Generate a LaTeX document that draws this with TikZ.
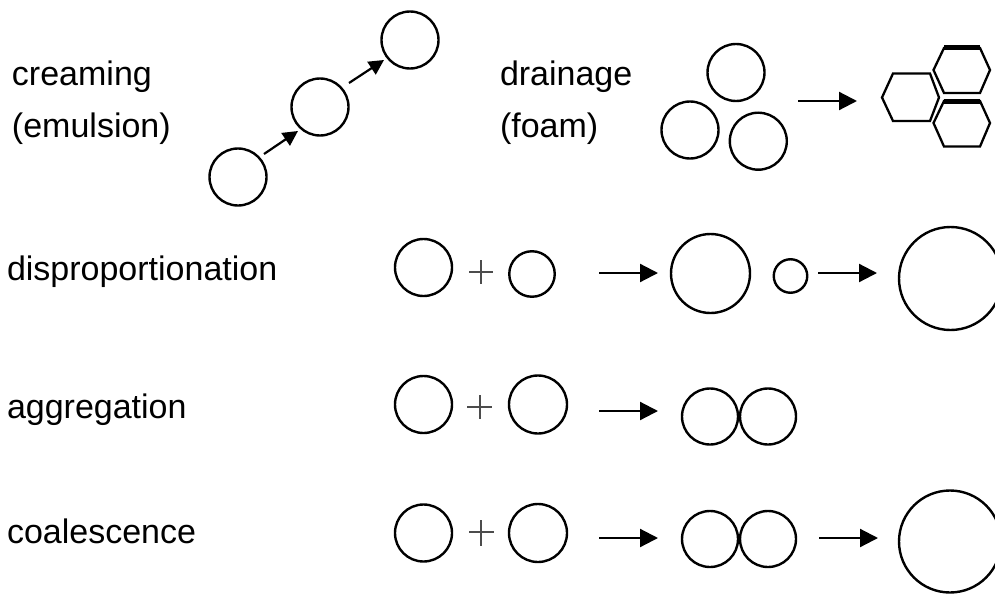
\documentclass[tikz,border=0pt]{standalone}
\usepackage{fontspec}
\setmainfont{Liberation Sans}
\usetikzlibrary{arrows.meta}
\tikzset{
  bubble/.style={circle, draw=black, line width=2.4pt, inner sep=0pt, outer sep=0pt},
  label/.style={anchor=base west, inner sep=0pt, outer sep=0pt, font=\fontsize{34}{40}\selectfont},
  arr/.style={line width=2.2pt, -{Triangle[length=18pt, width=18pt]}},
  smallarr/.style={line width=2.2pt, -{Triangle[length=15pt, width=15pt]}},
  plusbar/.style={draw=black!70, line width=1.4pt},
  hexline/.style={line width=2.3pt, line join=miter},
  thickedge/.style={line width=5pt},
}
\begin{document}
\begin{tikzpicture}[x=1pt, y=-1pt]
\useasboundingbox (0,0) rectangle (995,594);
\clip (0,0) rectangle (995,594);

% ---------- labels ----------
\node[label] (tCream) at (12,85) {creaming};
\node[label] (tEmul)  at (12,137) {(emulsion)};
\node[label] (tDrain) at (500,85) {drainage};
\node[label] (tFoam)  at (500,137) {(foam)};
\node[label] (tDisp)  at (7,280) {disproportionation};
\node[label] (tAggr)  at (7,418) {aggregation};
\node[label] (tCoal)  at (7,543) {coalescence};

% ---------- creaming: rising droplets ----------
\node[bubble, minimum size=57pt] (cr1) at (238,177) {};
\node[bubble, minimum size=57pt] (cr2) at (320,107) {};
\node[bubble, minimum size=57pt] (cr3) at (410,40) {};
\coordinate (crA1s) at (264,154); \coordinate (crA1e) at (298,131);
\coordinate (crA2s) at (349,83);  \coordinate (crA2e) at (384,60);
\draw[smallarr] (crA1s) -- (crA1e);
\draw[smallarr] (crA2s) -- (crA2e);

% ---------- drainage: bubbles to polyhedral foam ----------
\node[bubble, minimum size=57pt] (dr1) at (736,72.5) {};
\node[bubble, minimum size=57pt] (dr2) at (690,130) {};
\node[bubble, minimum size=57pt] (dr3) at (758.3,141.2) {};
\coordinate (drAs) at (798,101); \coordinate (drAe) at (857,101);
\draw[arr] (drAs) -- (drAe);

% foam cells
\draw[hexline] (882,97.5) -- (893,73.5) -- (930,73.5) -- (939,97.5) -- (930,121) -- (893,121) -- cycle;
\draw[hexline] (933.5,70) -- (944,48) -- (980,48) -- (990,70) -- (980,93) -- (944,93) -- cycle;
\draw[hexline] (933.5,123) -- (944,101) -- (980,101) -- (990,123) -- (980,146.5) -- (944,146.5) -- cycle;
\draw[thickedge] (944,48) -- (980,48);
\draw[thickedge] (944,101) -- (980,101);

% ---------- disproportionation ----------
\node[bubble, minimum size=57pt] (d1) at (423.5,267.5) {};
\draw[plusbar] (469,272) -- (493,272) (481,260) -- (481,284);
\node[bubble, minimum size=45.5pt] (d2) at (532,274) {};
\node[bubble, minimum size=79pt] (d3) at (710.5,273.5) {};
\node[bubble, minimum size=33.5pt] (d4) at (790.5,276) {};
\node[bubble, minimum size=103pt] (d5) at (950.5,278.5) {};
\coordinate (dA1s) at (599,273); \coordinate (dA1e) at (658,273);
\coordinate (dA2s) at (818,273); \coordinate (dA2e) at (877,273);
\draw[arr] (dA1s) -- (dA1e);
\draw[arr] (dA2s) -- (dA2e);

% ---------- aggregation ----------
\node[bubble, minimum size=57pt] (a1) at (423.5,404.5) {};
\draw[plusbar] (467,407) -- (492,407) (480,395) -- (480,419);
\node[bubble, minimum size=58pt] (a2) at (538,404.5) {};
\node[bubble, minimum size=56pt] (a3) at (710,416.5) {};
\node[bubble, minimum size=56pt] (a4) at (768,416.5) {};
\coordinate (aAs) at (599,411); \coordinate (aAe) at (658,411);
\draw[arr] (aAs) -- (aAe);

% ---------- coalescence ----------
\node[bubble, minimum size=57pt] (k1) at (423.5,533) {};
\draw[plusbar] (469,532) -- (494,532) (481,520) -- (481,546);
\node[bubble, minimum size=58pt] (k2) at (538,533) {};
\node[bubble, minimum size=56pt] (k3) at (710,539) {};
\node[bubble, minimum size=56pt] (k4) at (768,539) {};
\node[bubble, minimum size=102pt] (k5) at (950,541.5) {};
\coordinate (kA1s) at (599,538); \coordinate (kA1e) at (658,538);
\coordinate (kA2s) at (819,538); \coordinate (kA2e) at (878,538);
\draw[arr] (kA1s) -- (kA1e);
\draw[arr] (kA2s) -- (kA2e);
\end{tikzpicture}
\end{document}
